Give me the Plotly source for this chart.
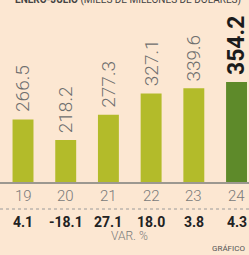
import plotly.graph_objects as go

years = [19, 20, 21, 22, 23, 24]
year_labels = ["19", "20", "21", "22", "23", "24"]
values = [266.5, 218.2, 277.3, 327.1, 339.6, 354.2]
value_labels = ["266.5", "218.2", "277.3", "327.1", "339.6", "354.2"]
var_labels = ["4.1", "-18.1", "27.1", "18.0", "3.8", "4.3"]
title_bold = "ENERO-JULIO"
title_rest = "(MILES DE MILLONES DE DÓLARES)"

BG = "#FCE7D2"
LIGHT = "#B3BB2A"
DARK = "#5E8A2A"
FONT = "Roboto, 'DejaVu Sans', sans-serif"

W, H = 249, 255
T, B = 10, 73
PH = H - T - B  # plot height in px

def py(pix):
    """pixel y (from top) -> paper fraction"""
    return (H - B - pix) / PH

colors = [LIGHT] * (len(years) - 1) + [DARK]

fig = go.Figure()
fig.add_trace(go.Bar(
    x=years, y=values, width=0.49,
    marker=dict(color=colors, line=dict(width=0)),
    hoverinfo="skip",
))

ann = []
for i, (x, v, t) in enumerate(zip(years, values, value_labels)):
    last = i == len(years) - 1
    ann.append(dict(
        x=x, y=v, xref="x", yref="y", text=t, showarrow=False,
        textangle=-90, xanchor="center", yanchor="bottom", yshift=5,
        font=dict(family=FONT, size=23 if last else 19,
                  color="#1b1b1b" if last else "#6e6e6e",
                  weight=700 if last else 300),
    ))
for x, t in zip(years, year_labels):
    ann.append(dict(
        x=x, y=py(195.5), xref="x", yref="paper", text=t, showarrow=False,
        xanchor="center", yanchor="middle",
        font=dict(family=FONT, size=15, color="#7a7a7a", weight=300),
    ))
for x, t in zip(years, var_labels):
    ann.append(dict(
        x=x, y=py(222), xref="x", yref="paper", text=t, showarrow=False,
        xanchor="center", yanchor="middle",
        font=dict(family=FONT, size=14, color="#222222", weight=700),
    ))
ann.append(dict(
    x=129 / W, y=py(236), xref="paper", yref="paper", text="VAR. %",
    showarrow=False, xanchor="center", yanchor="middle",
    font=dict(family=FONT, size=12, color="#7a7a7a", weight=300),
))
ann.append(dict(
    x=247 / W, y=py(248), xref="paper", yref="paper", text="GRÁFICO",
    showarrow=False, xanchor="right", yanchor="middle",
    font=dict(family=FONT, size=8, color="#555555"),
))
ann.append(dict(
    x=13 / W, y=py(8), xref="paper", yref="paper",
    text="<b>" + title_bold + "</b> " + title_rest,
    showarrow=False, xanchor="left", yanchor="bottom",
    font=dict(family=FONT, size=10, color="#444444"),
))

fig.update_layout(
    width=W, height=H,
    margin=dict(l=0, r=0, t=T, b=B, pad=0),
    paper_bgcolor=BG, plot_bgcolor=BG,
    showlegend=False,
    annotations=ann,
    shapes=[dict(type="line", xref="paper", yref="paper",
                 x0=0, x1=1, y0=py(209), y1=py(209),
                 line=dict(color="#9a9a9a", width=1, dash="dot"))],
    xaxis=dict(range=[18.461, 24.292], showgrid=False, zeroline=False,
               showticklabels=False, ticks="", showline=True,
               linecolor="#9c9890", linewidth=2, fixedrange=True),
    yaxis=dict(range=[119.7, 119.7 + PH * 2.345], showgrid=False,
               zeroline=False, showticklabels=False, ticks="",
               showline=False, fixedrange=True),
)

fig.write_html(
    "out.html",
    config={"displayModeBar": False},
    post_script="document.body.style.margin='0';"
                "document.body.style.overflow='hidden';"
                "document.body.style.background='" + BG + "';",
)
